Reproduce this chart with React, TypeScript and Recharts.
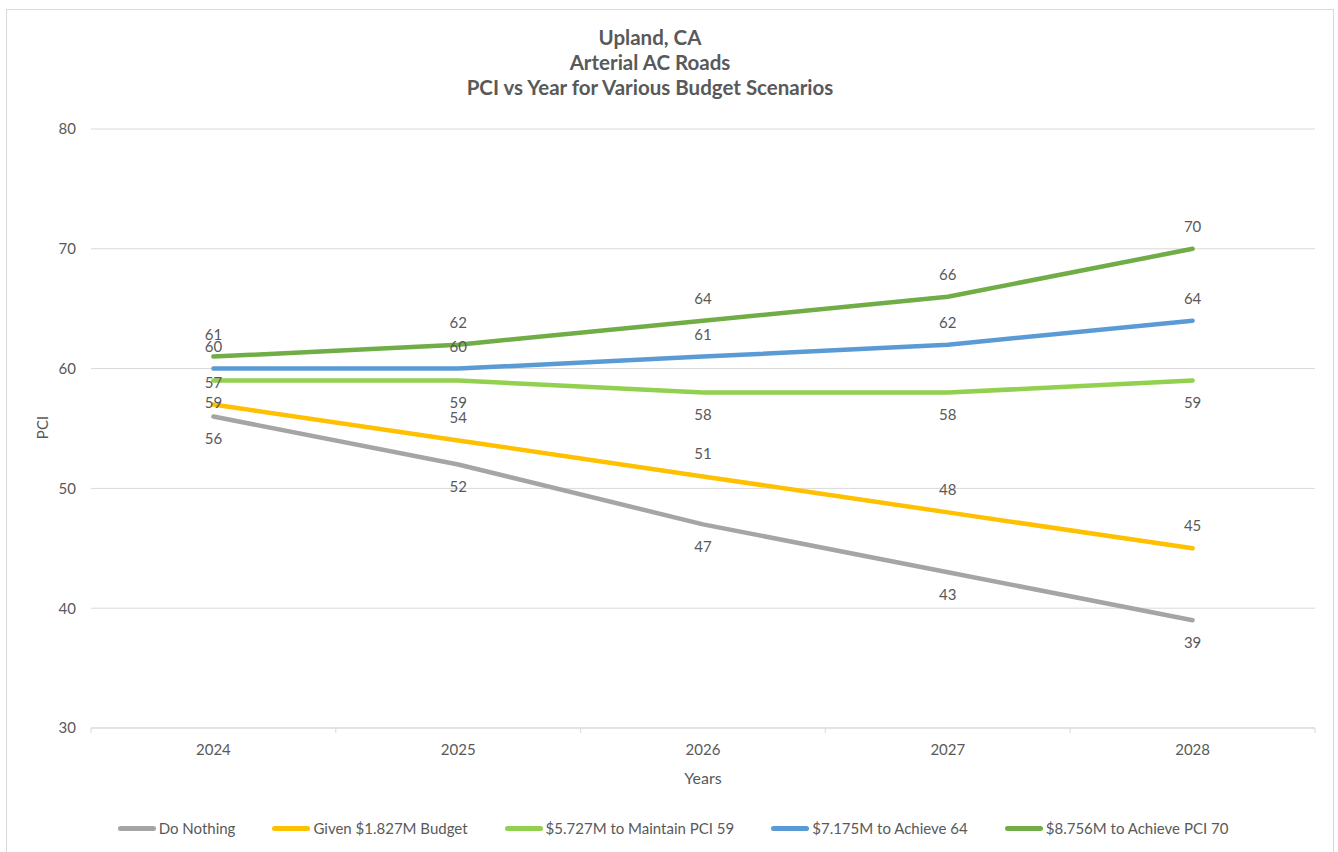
import { LineChart, Line, XAxis, YAxis, CartesianGrid, Legend, LabelList } from 'recharts'

// #region Data
const years = [2024, 2025, 2026, 2027, 2028]
const doNothing = [56, 52, 47, 43, 39]
const givenBudget = [57, 54, 51, 48, 45]
const maintain59 = [59, 59, 58, 58, 59]
const achieve64 = [60, 60, 61, 62, 64]
const achieve70 = [61, 62, 64, 66, 70]
const yTicks = [30, 40, 50, 60, 70, 80]
const titleLines = ['Upland, CA', 'Arterial AC Roads', 'PCI vs Year for Various Budget Scenarios']
// #endregion

const FONT = 'Lato, "Open Sans", sans-serif'
const TEXT = '#595959'
const GRID = '#d9d9d9'

const series = [
  { key: 'doNothing', name: 'Do Nothing', color: '#a5a5a5', labelPos: 'bottom' },
  { key: 'givenBudget', name: 'Given $1.827M Budget', color: '#ffc000', labelPos: 'top' },
  { key: 'maintain59', name: '$5.727M to Maintain PCI 59', color: '#92d050', labelPos: 'bottom' },
  { key: 'achieve64', name: '$7.175M to Achieve 64', color: '#5b9bd5', labelPos: 'top' },
  { key: 'achieve70', name: '$8.756M to Achieve PCI 70', color: '#70ad47', labelPos: 'top' },
] as const

const data = years.map((year, i) => ({
  year,
  doNothing: doNothing[i],
  givenBudget: givenBudget[i],
  maintain59: maintain59[i],
  achieve64: achieve64[i],
  achieve70: achieve70[i],
}))

// tick marks sit on the category boundaries, labels on the years
const xTicks = [years[0] - 0.5, ...years.flatMap((y) => [y, y + 0.5])]

const XTick = ({ x, y, payload }: any) => {
  const v = payload.value
  if (!Number.isInteger(v)) {
    return <line x1={x} x2={x} y1={y} y2={y + 5} stroke={GRID} />
  }
  return (
    <text x={x} y={y + 21} textAnchor="middle" dominantBaseline="central" fill={TEXT} fontSize={15} fontFamily={FONT}>
      {v}
    </text>
  )
}

// keep the legend in series order (recharts sorts payload otherwise)
const renderLegend = () => (
  <div
    style={{
      display: 'flex',
      justifyContent: 'center',
      alignItems: 'center',
      gap: 37,
      height: 20,
      fontSize: 15,
      color: TEXT,
      fontFamily: FONT,
    }}
  >
    {series.map((s) => (
      <div key={s.key} style={{ display: 'flex', alignItems: 'center' }}>
        <span style={{ display: 'inline-block', width: 38, height: 5, borderRadius: 3, background: s.color, marginRight: 3 }} />
        <span>{s.name}</span>
      </div>
    ))}
  </div>
)

export default function App() {
  return (
    <div style={{ position: 'absolute', left: 0, top: 0, width: 1338, height: 852, background: '#fff', overflow: 'hidden' }}>
      <div style={{ position: 'absolute', left: 6, top: 9, width: 1326, height: 870, border: `1px solid ${GRID}` }} />
      <div
        style={{
          position: 'absolute',
          left: 0,
          top: 25,
          width: 1300,
          textAlign: 'center',
          fontFamily: FONT,
          fontWeight: 700,
          fontSize: 20.5,
          lineHeight: '25px',
          color: TEXT,
        }}
      >
        {titleLines.map((t) => (
          <div key={t}>{t}</div>
        ))}
      </div>
      <LineChart
        width={1338}
        height={852}
        data={data}
        margin={{ top: 129, right: 23, left: 31, bottom: 14 }}
        style={{ position: 'absolute', left: 0, top: 0 }}
      >
        <CartesianGrid vertical={false} stroke={GRID} />
        <XAxis
          dataKey="year"
          type="number"
          domain={[years[0] - 0.5, years[years.length - 1] + 0.5]}
          ticks={xTicks}
          interval={0}
          tick={<XTick />}
          tickLine={false}
          tickSize={0}
          tickMargin={0}
          axisLine={{ stroke: GRID }}
          height={90}
          label={{
            content: ({ viewBox }: any) => (
              <text
                x={viewBox.x + viewBox.width / 2}
                y={viewBox.y + 49}
                textAnchor="middle"
                dominantBaseline="central"
                fill={TEXT}
                fontSize={16}
                fontFamily={FONT}
              >
                Years
              </text>
            ),
          }}
        />
        <YAxis
          type="number"
          domain={[30, 80]}
          ticks={yTicks}
          interval={0}
          width={60}
          axisLine={false}
          tickLine={false}
          tickSize={0}
          tickMargin={15}
          tick={{ fill: TEXT, fontSize: 15, fontFamily: FONT }}
          label={{
            content: ({ viewBox }: any) => {
              const cx = 42
              const cy = viewBox.y + viewBox.height / 2 - 1
              return (
                <text
                  x={cx}
                  y={cy}
                  transform={`rotate(-90 ${cx} ${cy})`}
                  textAnchor="middle"
                  dominantBaseline="central"
                  fill={TEXT}
                  fontSize={15}
                  fontFamily={FONT}
                >
                  PCI
                </text>
              )
            },
          }}
        />
        <Legend verticalAlign="bottom" content={renderLegend} />
        {series.map((s) => (
          <Line
            key={s.key}
            type="linear"
            dataKey={s.key}
            name={s.name}
            stroke={s.color}
            strokeWidth={4.5}
            strokeLinecap="round"
            strokeLinejoin="round"
            dot={false}
            activeDot={false}
            isAnimationActive={false}
          >
            <LabelList
              dataKey={s.key}
              position={s.labelPos}
              offset={17}
              fill={TEXT}
              fontSize={15}
              fontFamily={FONT}
            />
          </Line>
        ))}
      </LineChart>
    </div>
  )
}
